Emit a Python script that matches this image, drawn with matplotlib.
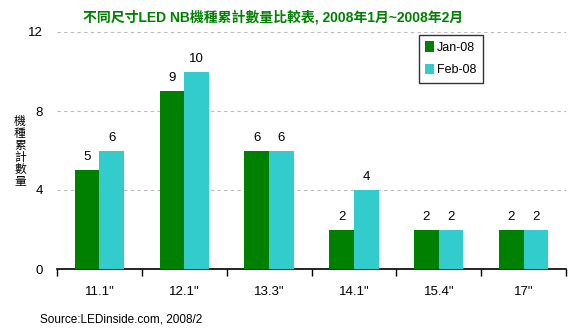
import numpy as np
import matplotlib.pyplot as plt
from matplotlib.ticker import FixedLocator

plt.rcParams['font.family'] = ['Liberation Sans', 'Noto Sans CJK TC', 'DejaVu Sans']

sizes = ['11.1"', '12.1"', '13.3"', '14.1"', '15.4"', '17"']
jan08 = [5, 9, 6, 2, 2, 2]
feb08 = [6, 10, 6, 4, 2, 2]
series_names = ['Jan-08', 'Feb-08']
colors = ['#008000', '#33CCCC']
ylabel = '機種累計數量'

fig = plt.figure(figsize=(5.8, 3.33), dpi=100)
ax = fig.add_axes([57 / 580, 1 - 269 / 333, 509 / 580, 237 / 333])

x = np.arange(len(sizes))
w = 0.29
b1 = ax.bar(x - w / 2, jan08, w, color=colors[0], label=series_names[0], zorder=3)
b2 = ax.bar(x + w / 2, feb08, w, color=colors[1], label=series_names[1], zorder=3)

for bars, vals in ((b1, jan08), (b2, feb08)):
    for r, v in zip(bars, vals):
        ax.text(r.get_x() + r.get_width() / 2, v + 0.35, str(v),
                ha='center', va='bottom', fontsize=9.5)

ax.set_xlim(-0.5, len(sizes) - 0.5)
ax.set_ylim(0, 12)
ax.set_yticks([0, 4, 8, 12])
ax.set_xticks(x)
ax.set_xticklabels(sizes, fontsize=9.5)
ax.xaxis.set_minor_locator(FixedLocator(np.arange(-0.5, len(sizes), 1)))
ax.tick_params(axis='x', which='major', length=0, pad=12)
ax.tick_params(axis='x', which='minor', length=5, width=1, direction='out')
ax.tick_params(axis='y', length=0, labelsize=9.5, pad=10)

for s in ['top', 'right', 'left']:
    ax.spines[s].set_visible(False)
ax.spines['bottom'].set_linewidth(1.2)
ax.yaxis.grid(True, linestyle=(0, (3, 3)), color='#BBBBBB', linewidth=0.8, zorder=0)

leg = ax.legend(loc='upper left', bbox_to_anchor=(362 / 509, 1.0 - 3 / 237),
                borderaxespad=0, fontsize=9, frameon=True, fancybox=False,
                handlelength=0.7, handleheight=0.9, handletextpad=0.25,
                labelspacing=0.8, borderpad=0.5)
leg.get_frame().set_edgecolor('black')
leg.get_frame().set_linewidth(1)

fig.text(273 / 580, 1 - 17 / 333, '不同尺寸LED NB機種累計數量比較表, 2008年1月~2008年2月',
         ha='center', va='center', color='#008000', fontsize=10, fontweight='bold')

# vertical stacked y label, one character per line
for i, ch in enumerate(ylabel):
    fig.text(20 / 580, 1 - (121 + 12 * i) / 333, ch, ha='center', va='center',
             fontsize=8.5, family=['Noto Sans CJK TC'])

fig.text(40 / 580, 1 - 320 / 333, 'Source:LEDinside.com, 2008/2', ha='left',
         va='center', fontsize=8.5)

fig.savefig('out.png', dpi=100)
